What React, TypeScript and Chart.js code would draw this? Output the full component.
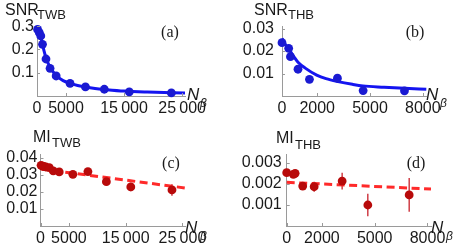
import React, { useEffect, useRef } from "react";
import { Chart, registerables } from "chart.js";
Chart.register(...registerables);

// ---------- data ----------
// TWB (left panels)
const twbN = [100, 400, 650, 950, 1550, 2250, 3300, 5700, 8350, 11600, 15900, 23150];
const snrTwb = [0.286, 0.272, 0.258, 0.222, 0.159, 0.119, 0.086, 0.054, 0.039, 0.029, 0.018, 0.013];
const snrTwbFitN = [0, 300, 600, 900, 1200, 1600, 2300, 3300, 4500, 5700, 7000, 8300, 10000, 12000, 15000, 19000, 25500];
const snrTwbFit = [0.297, 0.28, 0.258, 0.228, 0.195, 0.16, 0.122, 0.088, 0.066, 0.054, 0.045, 0.039, 0.032, 0.027, 0.021, 0.017, 0.013];
const miTwb = [0.0357, 0.0352, 0.0349, 0.0347, 0.0343, 0.0324, 0.0318, 0.0304, 0.032, 0.0261, 0.023, 0.0212];
const miTwbErr = [0.0012, 0.0012, 0.0012, 0.0012, 0.0012, 0.0013, 0.0013, 0.0014, 0.0015, 0.0018, 0.0025, 0.0034];
const miTwbFitN = [0, 25500];
const miTwbFit = [0.0336, 0.02235];

// THB (right panels)
const thbN = [0, 380, 480, 910, 1560, 3150, 4610, 6960];
const snrThb = [0.0237, 0.0212, 0.0175, 0.0119, 0.0074, 0.0079, 0.0024, 0.0023];
const snrThbFitN = [0, 200, 430, 700, 910, 1300, 1970, 2500, 3180, 4000, 4600, 5800, 6950, 8200];
const snrThbFit = [0.0255, 0.0228, 0.0204, 0.0172, 0.015, 0.0125, 0.0093, 0.0077, 0.0064, 0.0052, 0.0045, 0.0039, 0.0034, 0.003];
const miThb = [0.00254, 0.00246, 0.00251, 0.0019, 0.00187, 0.00214, 0.001, 0.00148];
const miThbErr = [0.00012, 0.00012, 0.00012, 0.00018, 0.00024, 0.0004, 0.00053, 0.0008];
const miThbFitN = [0, 8200];
const miThbFit = [0.00208, 0.00176];

// tick values and labels
const twbXTicks = [0, 5000, 15000, 25000];
const twbXLabels = ["0", "5000", "15\u2009000", "25\u2009000"];
const thbXTicks = [0, 2000, 5000, 8000];
const thbXLabels = ["0", "2000", "5000", "8000"];
const aYTicks = [0.1, 0.2, 0.3];
const aYLabels = ["0.1", "0.2", "0.3"];
const bYTicks = [0.01, 0.02, 0.03];
const bYLabels = ["0.01", "0.02", "0.03"];
const cYTicks = [0.01, 0.02, 0.03, 0.04];
const cYLabels = ["0.01", "0.02", "0.03", "0.04"];
const dYTicks = [0.001, 0.002, 0.003];
const dYLabels = ["0.001", "0.002", "0.003"];

// ---------- styles ----------
const W = 463;
const H = 250;
const BLUE_LINE = "#1414f0";
const BLUE_DOT = "#1a1ad2";
const RED_LINE = "#ff2a2a";
const RED_DOT = "#b80a0a";
const RED_ERR = "#c8202a";
const AXIS = "#9a9a9a";
const TXT = "#1a1a1a";
const SANS = '"Liberation Sans", Arial, sans-serif';
const SERIF = '"Liberation Serif", "Times New Roman", serif';

const zip = (xs: number[], ys: number[]) => xs.map((x, i) => ({ x, y: ys[i] }));

type PanelDef = {
  area: { left: number; right: number; top: number; bottom: number };
  yAxisW: number;
  xMax: number;
  yMax: number;
  xTicks: number[];
  xLabels: string[];
  yTicks: number[];
  yLabels: string[];
  yPad: number;
  pointsN: number[];
  points: number[];
  err?: number[];
  fitN: number[];
  fit: number[];
  dashed: boolean;
  dot: string;
  line: string;
  title: string;
  sub: string;
  titlePos: [number, number];
  subPos: [number, number];
  nPos: [number, number];
  betaPos: [number, number];
  letter: string;
  letterPos: [number, number];
};

const panels: PanelDef[] = [
  {
    area: { left: 37, right: 185, top: 25, bottom: 96 }, yAxisW: 37,
    xMax: 25500, yMax: 0.305,
    xTicks: twbXTicks, xLabels: twbXLabels, yTicks: aYTicks, yLabels: aYLabels, yPad: 3,
    pointsN: twbN, points: snrTwb, fitN: snrTwbFitN, fit: snrTwbFit, dashed: false,
    dot: BLUE_DOT, line: BLUE_LINE,
    title: "SNR", sub: "TWB", titlePos: [5, 15], subPos: [37, 19],
    nPos: [187, 100], betaPos: [200, 107], letter: "(a)", letterPos: [170, 33],
  },
  {
    area: { left: 282, right: 426.3, top: 26.25, bottom: 96 }, yAxisW: 50,
    xMax: 8200, yMax: 0.031,
    xTicks: thbXTicks, xLabels: thbXLabels, yTicks: bYTicks, yLabels: bYLabels, yPad: 8,
    pointsN: thbN, points: snrThb, fitN: snrThbFitN, fit: snrThbFit, dashed: false,
    dot: BLUE_DOT, line: BLUE_LINE,
    title: "SNR", sub: "THB", titlePos: [254, 15], subPos: [288, 19],
    nPos: [426, 100], betaPos: [440, 107], letter: "(b)", letterPos: [415, 33],
  },
  {
    area: { left: 40.5, right: 185.3, top: 154.6, bottom: 226 }, yAxisW: 40.5,
    xMax: 25500, yMax: 0.042,
    xTicks: twbXTicks, xLabels: twbXLabels, yTicks: cYTicks, yLabels: cYLabels, yPad: 3,
    pointsN: twbN, points: miTwb, err: miTwbErr, fitN: miTwbFitN, fit: miTwbFit, dashed: true,
    dot: RED_DOT, line: RED_LINE,
    title: "MI", sub: "TWB", titlePos: [33, 142], subPos: [52, 147],
    nPos: [185, 233], betaPos: [200, 240], letter: "(c)", letterPos: [171, 164],
  },
  {
    area: { left: 286.7, right: 431, top: 154.6, bottom: 226 }, yAxisW: 50,
    xMax: 8200, yMax: 0.0034,
    xTicks: thbXTicks, xLabels: thbXLabels, yTicks: dYTicks, yLabels: dYLabels, yPad: 5,
    pointsN: thbN, points: miThb, err: miThbErr, fitN: miThbFitN, fit: miThbFit, dashed: true,
    dot: RED_DOT, line: RED_LINE,
    title: "MI", sub: "THB", titlePos: [276, 143], subPos: [295, 149],
    nPos: [431, 233], betaPos: [446, 240], letter: "(d)", letterPos: [416, 164],
  },
];

const X_AXIS_H = 22;

function Panel({ p }: { p: PanelDef }) {
  const ref = useRef<HTMLCanvasElement | null>(null);
  useEffect(() => {
    if (!ref.current) return;
    const decor = {
      id: "decor",
      beforeDatasetsDraw(chart: any) {
        if (!p.err) return;
        const ctx = chart.ctx;
        const xs = chart.scales.x;
        const ys = chart.scales.y;
        ctx.save();
        ctx.strokeStyle = RED_ERR;
        ctx.lineWidth = 1.3;
        p.pointsN.forEach((n, i) => {
          const x = xs.getPixelForValue(n);
          const y1 = ys.getPixelForValue(p.points[i] - p.err![i]);
          const y2 = ys.getPixelForValue(p.points[i] + p.err![i]);
          ctx.beginPath();
          ctx.moveTo(x, y1);
          ctx.lineTo(x, y2);
          ctx.stroke();
        });
        ctx.restore();
      },
      afterDraw(chart: any) {
        const ctx = chart.ctx;
        const xs = chart.scales.x;
        const ys = chart.scales.y;
        const a = chart.chartArea;
        ctx.save();
        // inward tick marks
        ctx.strokeStyle = AXIS;
        ctx.lineWidth = 1;
        p.xTicks.forEach((v) => {
          const x = Math.round(xs.getPixelForValue(v)) + 0.5;
          ctx.beginPath();
          ctx.moveTo(x, a.bottom);
          ctx.lineTo(x, a.bottom - 3);
          ctx.stroke();
        });
        p.yTicks.forEach((v) => {
          const y = Math.round(ys.getPixelForValue(v)) + 0.5;
          ctx.beginPath();
          ctx.moveTo(a.left, y);
          ctx.lineTo(a.left + 3, y);
          ctx.stroke();
        });
        // titles
        ctx.fillStyle = TXT;
        ctx.textAlign = "left";
        ctx.textBaseline = "alphabetic";
        ctx.font = `16px ${SANS}`;
        ctx.fillText(p.title, p.titlePos[0], p.titlePos[1]);
        ctx.font = `13px ${SANS}`;
        ctx.fillText(p.sub, p.subPos[0], p.subPos[1]);
        ctx.font = `italic 17px ${SANS}`;
        ctx.fillText("N", p.nPos[0], p.nPos[1]);
        ctx.font = `italic 12px ${SANS}`;
        ctx.fillText("\u03B2", p.betaPos[0], p.betaPos[1]);
        ctx.font = `16px ${SERIF}`;
        ctx.textAlign = "center";
        ctx.textBaseline = "middle";
        ctx.fillText(p.letter, p.letterPos[0], p.letterPos[1]);
        ctx.restore();
      },
    };
    const chart = new Chart(ref.current, {
      type: "scatter",
      data: {
        datasets: [
          {
            data: zip(p.pointsN, p.points),
            pointRadius: 4.4,
            pointBackgroundColor: p.dot,
            pointBorderWidth: 0,
            showLine: false,
            clip: false,
          } as any,
          {
            data: zip(p.fitN, p.fit),
            showLine: true,
            pointRadius: 0,
            borderColor: p.line,
            borderWidth: 3,
            borderDash: p.dashed ? [8, 4.5] : [],
            cubicInterpolationMode: "monotone",
            clip: false,
          } as any,
        ],
      },
      options: {
        responsive: false,
        animation: false,
        devicePixelRatio: 1,
        layout: {
          padding: {
            left: p.area.left - p.yAxisW,
            right: W - p.area.right,
            top: p.area.top,
            bottom: H - p.area.bottom - X_AXIS_H,
          },
        },
        plugins: { legend: { display: false }, tooltip: { enabled: false } },
        scales: {
          x: {
            type: "linear",
            min: 0,
            max: p.xMax,
            afterFit: (s: any) => {
              s.height = X_AXIS_H;
            },
            afterBuildTicks: (s: any) => {
              s.ticks = p.xTicks.map((v) => ({ value: v }));
            },
            ticks: {
              autoSkip: false,
              maxRotation: 0,
              padding: 3,
              color: TXT,
              font: { family: SANS, size: 16 },
              callback: (_v: any, i: number) => p.xLabels[i],
            },
            grid: { drawOnChartArea: false, drawTicks: false },
            border: { color: AXIS, width: 1 },
          },
          y: {
            type: "linear",
            min: 0,
            max: p.yMax,
            afterFit: (s: any) => {
              s.width = p.yAxisW;
            },
            afterBuildTicks: (s: any) => {
              s.ticks = p.yTicks.map((v) => ({ value: v }));
            },
            ticks: {
              autoSkip: false,
              padding: p.yPad,
              color: TXT,
              font: { family: SANS, size: 16 },
              callback: (_v: any, i: number) => p.yLabels[i],
            },
            grid: { drawOnChartArea: false, drawTicks: false },
            border: { color: AXIS, width: 1 },
          },
        },
      } as any,
      plugins: [decor],
    });
    return () => chart.destroy();
  }, [p]);
  return (
    <canvas
      ref={ref}
      width={W}
      height={H}
      style={{ position: "absolute", left: 0, top: 0, width: W, height: H }}
    />
  );
}

export default function App() {
  return (
    <div style={{ position: "absolute", left: 0, top: 0, width: W, height: H, background: "#fff" }}>
      {panels.map((p, i) => (
        <Panel key={i} p={p} />
      ))}
    </div>
  );
}
